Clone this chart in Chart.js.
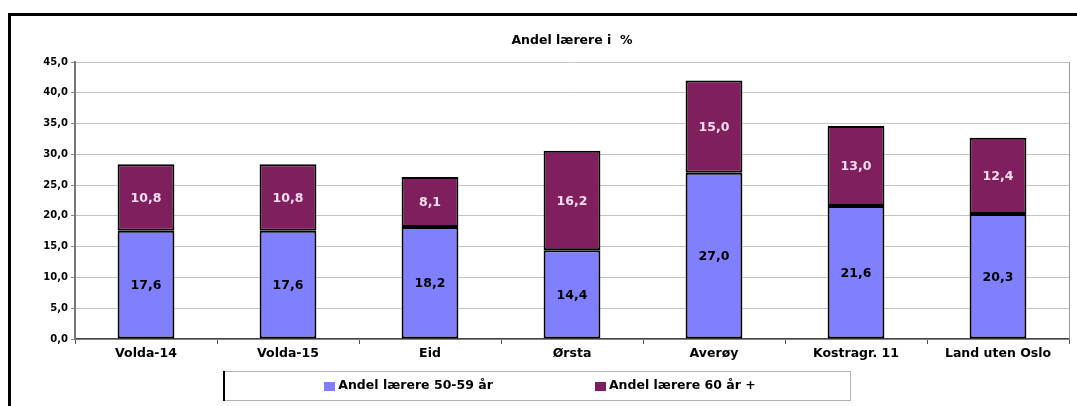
<!DOCTYPE html>
<html>
<head>
<meta charset="utf-8">
<script src="https://cdn.jsdelivr.net/npm/chart.js@4/dist/chart.umd.min.js"></script>
<style>
html,body{margin:0;padding:0;background:#fff;}
#wrap{position:relative;width:1077px;height:406px;}
</style>
</head>
<body>
<div id="wrap"><canvas id="c" width="1077" height="406"></canvas></div>
<script>
const categories = ["Volda-14", "Volda-15", "Eid", "Ørsta", "Averøy", "Kostragr. 11", "Land uten Oslo"];
const andel5059 = [17.6, 17.6, 18.2, 14.4, 27.0, 21.6, 20.3];
const andel60 = [10.8, 10.8, 8.1, 16.2, 15.0, 13.0, 12.4];
const seriesNames = ["Andel lærere 50-59 år", "Andel lærere 60 år +"];
const seriesColors = ['#8080FF', '#801F5E'];
const titleText = "Andel lærere i  %";
const yMin = 0, yMax = 45, yStep = 5;

const FONT = "'DejaVu Sans', 'Liberation Sans', Arial, sans-serif";
const fmt = v => v.toFixed(1).replace('.', ',');

const framePlugin = {
  id: 'frame',
  beforeDraw(chart) {
    const ctx = chart.ctx;
    ctx.save();
    ctx.fillStyle = '#fff';
    ctx.fillRect(0, 0, chart.width, chart.height);
    ctx.fillStyle = '#000';
    ctx.fillRect(8, 13, chart.width - 8, 3);
    ctx.fillRect(8, 13, 3, chart.height - 13);
    ctx.restore();
  },
  afterDraw(chart) {
    const ctx = chart.ctx;
    const a = chart.chartArea;
    ctx.save();
    // right border of plot area
    ctx.strokeStyle = '#9a9a9a';
    ctx.lineWidth = 1;
    ctx.beginPath();
    ctx.moveTo(Math.round(a.right) + 0.5, a.top);
    ctx.lineTo(Math.round(a.right) + 0.5, a.bottom);
    ctx.stroke();

    // custom legend
    ctx.font = "bold 12.5px " + FONT;
    ctx.textBaseline = 'middle';
    ctx.textAlign = 'left';
    const box = 11, boxGap = 3, itemGap = 102;
    const names = chart.data.datasets.map(d => d.label);
    const widths = names.map(n => box + boxGap + ctx.measureText(n).width);
    const total = widths.reduce((s, w) => s + w, 0) + itemGap * (names.length - 1);
    const cx = (a.left + a.right) / 2 - 32;
    let x = cx - total / 2;
    const startX = x;
    const cy = 386;
    names.forEach((n, i) => {
      ctx.fillStyle = chart.data.datasets[i].backgroundColor;
      ctx.fillRect(Math.round(x), cy - 4, box, 9);
      ctx.fillStyle = '#000';
      ctx.fillText(n, x + box + boxGap, cy);
      x += widths[i] + itemGap;
    });
    const endX = x - itemGap;
    const l = Math.round(startX - 101), r = Math.round(endX + 94);
    const t = 371, b = 400;
    ctx.strokeStyle = '#b0b0b0';
    ctx.lineWidth = 1;
    ctx.strokeRect(l + 0.5, t + 0.5, r - l, b - t);
    ctx.fillStyle = '#000';
    ctx.fillRect(l, t, 2, b - t + 1);
    ctx.restore();
  }
};

const labelPlugin = {
  id: 'barLabels',
  afterDatasetsDraw(chart) {
    const ctx = chart.ctx;
    ctx.save();
    ctx.font = "bold 12.5px " + FONT;
    ctx.textAlign = 'center';
    ctx.textBaseline = 'middle';
    chart.data.datasets.forEach((ds, i) => {
      const meta = chart.getDatasetMeta(i);
      ctx.fillStyle = i === 0 ? '#000000' : '#F6DDF0';
      meta.data.forEach((el, j) => {
        const y = (el.y + el.base) / 2;
        ctx.fillText(fmt(ds.data[j]), el.x, y + 1);
      });
    });
    ctx.restore();
  }
};

new Chart(document.getElementById('c'), {
  type: 'bar',
  data: {
    labels: categories,
    datasets: [
      { label: seriesNames[0], data: andel5059, backgroundColor: seriesColors[0], borderColor: '#000', borderWidth: 2, borderSkipped: false, categoryPercentage: 1, barPercentage: 0.4 },
      { label: seriesNames[1], data: andel60, backgroundColor: seriesColors[1], borderColor: '#000', borderWidth: 2, borderSkipped: false, categoryPercentage: 1, barPercentage: 0.4 }
    ]
  },
  options: {
    responsive: false,
    animation: false,
    events: [],
    layout: { padding: { left: 10, right: 8, top: 16, bottom: 38 } },
    plugins: {
      title: {
        display: true, text: titleText, fullSize: false,
        color: '#000', font: { family: FONT, size: 12.5, weight: 'bold' },
        padding: { top: 17, bottom: 14 }
      },
      legend: { display: false },
      tooltip: { enabled: false }
    },
    scales: {
      x: {
        stacked: true,
        offset: true,
        afterFit(scale) { scale.height = 29; },
        grid: { display: true, offset: true, drawOnChartArea: false, drawTicks: true, tickLength: 5, color: '#555' },
        border: { display: true, color: '#444', width: 1.5 },
        ticks: { color: '#000', font: { family: FONT, size: 12.5, weight: 'bold' }, padding: 2, maxRotation: 0, autoSkip: false }
      },
      y: {
        stacked: true,
        min: yMin, max: yMax,
        afterFit(scale) { scale.width = 65; },
        grid: { color: '#c4c4c4', lineWidth: 1, tickLength: 4, tickColor: '#888' },
        border: { display: true, color: '#777', width: 2 },
        ticks: {
          stepSize: yStep, color: '#000', padding: 3,
          font: { family: FONT, size: 10, weight: 'bold' },
          callback: v => fmt(v)
        }
      }
    }
  },
  plugins: [framePlugin, labelPlugin]
});
</script>
</body>
</html>
